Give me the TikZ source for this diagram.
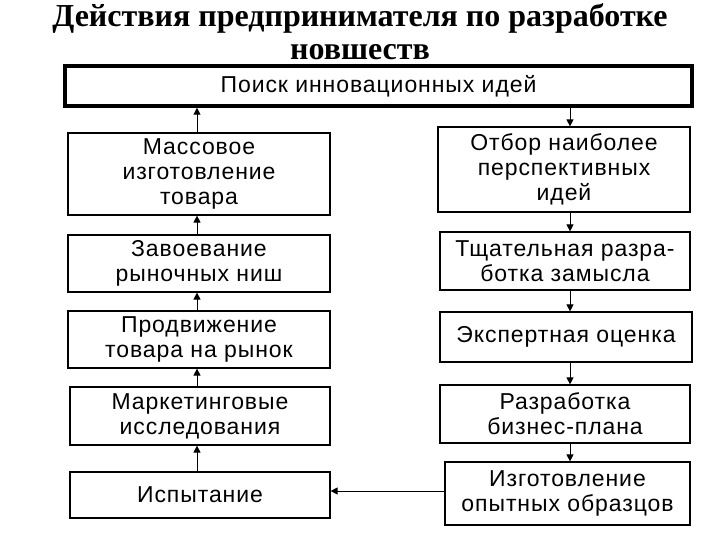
\documentclass[tikz,border=0pt]{standalone}
\usepackage{fontspec}
\setmainfont{Liberation Sans}[LetterSpace=4]
\newfontfamily\titlefont{Liberation Serif}
\usetikzlibrary{arrows.meta}
\begin{document}
\begin{tikzpicture}[x=1pt,y=-1pt,
  box/.style={draw,line width=1.2pt,align=center,font=\fontsize{23}{25}\selectfont,inner sep=0pt},
  arr/.style={-{Triangle[length=7pt,width=7pt]},line width=1pt}]
\useasboundingbox (0,0) rectangle (720,540);
\node[font=\titlefont\bfseries\fontsize{32}{33}\selectfont,align=center] (title) at (360,32) {Действия предпринимателя по разработке\\новшеств};
\node[box,fill=white,line width=3.5pt,minimum width=627pt,minimum height=40pt] (top) at (378.5,86) {Поиск инновационных идей};
\node[box,minimum width=262pt,minimum height=82pt] (l1) at (199,174) {Массовое\\изготовление\\товара};
\node[box,minimum width=262pt,minimum height=57pt] (l2) at (199,263.5) {Завоевание\\рыночных ниш};
\node[box,minimum width=262pt,minimum height=57pt] (l3) at (199,339.5) {Продвижение\\товара на рынок};
\node[box,minimum width=260pt,minimum height=58pt] (l4) at (200,416) {Маркетинговые\\исследования};
\node[box,minimum width=260pt,minimum height=46pt] (l5) at (200,495) {Испытание};
\node[box,minimum width=252pt,minimum height=85pt] (r1) at (564,169.5) {Отбор наиболее\\перспективных\\идей};
\node[box,minimum width=250pt,minimum height=58pt] (r2) at (565,261) {Тщательная разра-\\ботка замысла};
\node[box,minimum width=252pt,minimum height=50pt] (r3) at (566,337) {Экспертная оценка};
\node[box,minimum width=250pt,minimum height=58pt] (r4) at (565,414) {Разработка\\бизнес-плана};
\node[box,minimum width=245pt,minimum height=63pt] (r5) at (567.5,493.5) {Изготовление\\опытных образцов};
\draw[arr] (l1.north -| 197,0) -- (top.south -| 197,0);
\draw[arr] (l2.north -| 197,0) -- (l1.south -| 197,0);
\draw[arr] (l3.north -| 197,0) -- (l2.south -| 197,0);
\draw[arr] (l4.north -| 197,0) -- (l3.south -| 197,0);
\draw[arr] (l5.north -| 197,0) -- (l4.south -| 197,0);
\draw[arr] (top.south -| 570,0) -- (r1.north -| 570,0);
\draw[arr] (r1.south -| 570,0) -- (r2.north -| 570,0);
\draw[arr] (r2.south -| 570,0) -- (r3.north -| 570,0);
\draw[arr] (r3.south -| 570,0) -- (r4.north -| 570,0);
\draw[arr] (r4.south -| 570,0) -- (r5.north -| 570,0);
\draw[arr] (r5.west |- 0,491) -- (l5.east |- 0,491);
\end{tikzpicture}
\end{document}
